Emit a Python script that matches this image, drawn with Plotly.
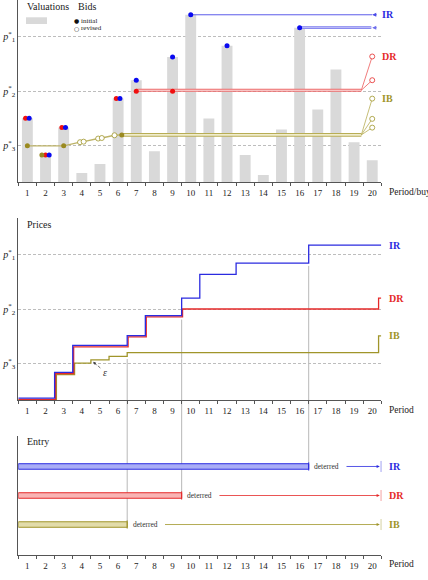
import plotly.graph_objects as go

W, H = 428, 580

# ---------------- data ----------------
periods = list(range(1, 21))
valuations = [35.2, 15.0, 30.0, 5.1, 10.1, 45.9, 56.0, 17.0, 68.8, 91.9,
              35.0, 74.9, 15.0, 4.0, 28.9, 84.8, 39.9, 61.9, 22.0, 12.1]

p_levels = [80, 50, 20]
p_labels = ["<i>p</i><sup>*</sup><sub>1</sub>", "<i>p</i><sup>*</sup><sub>2</sub>",
            "<i>p</i><sup>*</sup><sub>3</sub>"]

# initial bids
ir_bid_x = [1.1, 2.2, 3.1, 6.1, 7, 9, 10, 12, 16]
ir_bid_y = [35.2, 15.0, 30.0, 45.9, 56.0, 68.8, 91.9, 74.9, 84.8]
dr_bid_x = [0.9, 2.0, 2.9, 5.9, 7, 9]
dr_bid_y = [35.2, 15.0, 30.0, 45.9, 50.0, 50.0]
ib_bid_x = [1.0, 1.8, 3.0, 6.2]
ib_bid_y = [20.0, 15.0, 20.0, 26.0]

# IB bid path and revised bids
ib_path_x = [1, 3, 3.9, 4.1, 4.9, 5.1, 5.8, 6.2]
ib_path_y = [20, 20, 22.0, 22.3, 24.0, 24.3, 25.8, 26.0]
ib_rev_x = [3.9, 4.1, 4.9, 5.1, 5.8]
ib_rev_y = [22.0, 22.3, 24.0, 24.3, 25.8]

# held bids
ir_hold = [(10, 91.9), (16, 84.8)]
dr_hold_x = [7, 19.4]
dr_hold_y = [50.5, 50.5]
ib_hold_x = [6.2, 19.4]
ib_hold_y = [26.0, 26.0]
fan_x = [19.4, 20.0]
dr_fan_y = [69.0, 56.0]
ib_fan_y = [45.9, 34.8, 30.0]
hold_end = 20

# prices
ir_price_x = [0.5, 2.5, 3.5, 6.5, 7.5, 9.5, 10.5, 12.5, 16.5, 20.5]
ir_price_y = [1.0, 15.2, 30.0, 35.4, 46.4, 56.0, 69.0, 75.2, 85.1, 85.1]
dr_price_x = [0.5, 2.55, 3.55, 6.55, 7.55, 9.55, 20.35, 20.5]
dr_price_y = [0.3, 14.5, 29.2, 34.7, 45.7, 50.0, 56.0, 56.0]
ib_price_x = [0.5, 2.6, 3.6, 4.5, 5.5, 6.5, 20.35, 20.5]
ib_price_y = [0.0, 14.0, 20.3, 22.0, 24.0, 26.0, 35.2, 35.2]

# entry
entrants = ["IR", "DR", "IB"]
entry_y = [3, 2, 1]
deter_at = [16.5, 9.5, 6.5]

# ---------------- styles ----------------
BLUE, BLUE_L = "#2b2be0", "#a9adf6"
RED, RED_L = "#e52a2a", "#f8b4b4"
OLV, OLV_L = "#a0952a", "#e2dcaa"
DOT_B, DOT_R, DOT_O = "#0a0af0", "#f01010", "#9a8a20"
GRAY_BAR = "#d9d9d9"
AX = "#555555"
FONT = "Liberation Serif, DejaVu Serif, serif"
col = {"IR": BLUE, "DR": RED, "IB": OLV}
col_l = {"IR": BLUE_L, "DR": RED_L, "IB": OLV_L}
price_series = {"IR": (ir_price_x, ir_price_y), "DR": (dr_price_x, dr_price_y),
                "IB": (ib_price_x, ib_price_y)}

XDOM = [18.3 / W, 381.3 / W]
YD_TOP = [1 - 182.3 / H, 1.0]
YD_MID = [1 - 400 / H, 1 - 218 / H]
YD_BOT = [1 - 555 / H, 1 - 436 / H]
BOT_RANGE = [-0.05, 4.05]


def px(x):
    return x / W


def py(y):
    return 1 - y / H


def mid_paper(v):
    return YD_MID[0] + v / 100 * (YD_MID[1] - YD_MID[0])


def bot_paper(v):
    return YD_BOT[0] + (v - BOT_RANGE[0]) / (BOT_RANGE[1] - BOT_RANGE[0]) * (YD_BOT[1] - YD_BOT[0])


fig = go.Figure()

# ---------- top panel ----------
fig.add_trace(go.Bar(x=periods, y=valuations, width=0.6, marker=dict(color=GRAY_BAR, line=dict(width=0)),
                     xaxis="x", yaxis="y", showlegend=False, hoverinfo="skip"))


def double_line(xs, ys, c, xa, ya, w=3.2, inner="#ffffff"):
    fig.add_trace(go.Scatter(x=xs, y=ys, mode="lines", line=dict(color=c, width=w),
                             xaxis=xa, yaxis=ya, showlegend=False, hoverinfo="skip"))
    fig.add_trace(go.Scatter(x=xs, y=ys, mode="lines", line=dict(color=inner, width=w - 2.0),
                             xaxis=xa, yaxis=ya, showlegend=False, hoverinfo="skip"))


# IB path
fig.add_trace(go.Scatter(x=ib_path_x, y=ib_path_y, mode="lines", line=dict(color="#bdb368", width=1.4),
                         xaxis="x", yaxis="y", showlegend=False, hoverinfo="skip"))
# holds
double_line(ib_hold_x, ib_hold_y, "#b8ad55", "x", "y", w=3.6, inner="#efeccc")
double_line(dr_hold_x, dr_hold_y, "#ec6a6a", "x", "y", w=3.2, inner="#fde4e4")
# fans
for fy in ib_fan_y:
    fig.add_trace(go.Scatter(x=fan_x, y=[ib_hold_y[-1], fy], mode="lines", line=dict(color="#b8ad55", width=0.8),
                             xaxis="x", yaxis="y", showlegend=False, hoverinfo="skip"))
for fy in dr_fan_y:
    fig.add_trace(go.Scatter(x=fan_x, y=[dr_hold_y[-1], fy], mode="lines", line=dict(color="#ec5a5a", width=0.8),
                             xaxis="x", yaxis="y", showlegend=False, hoverinfo="skip"))
fig.add_trace(go.Scatter(x=[fan_x[1]] * len(ib_fan_y), y=ib_fan_y, mode="markers",
                         marker=dict(size=5, color="white", line=dict(color=OLV, width=0.8)),
                         xaxis="x", yaxis="y", showlegend=False, hoverinfo="skip"))
fig.add_trace(go.Scatter(x=[fan_x[1]] * len(dr_fan_y), y=dr_fan_y, mode="markers",
                         marker=dict(size=5, color="white", line=dict(color=RED, width=0.8)),
                         xaxis="x", yaxis="y", showlegend=False, hoverinfo="skip"))
# IR holds
fig.add_trace(go.Scatter(x=[ir_hold[0][0], hold_end], y=[ir_hold[0][1]] * 2, mode="lines",
                         line=dict(color="#4a4ae8", width=0.9),
                         xaxis="x", yaxis="y", showlegend=False, hoverinfo="skip"))
double_line([ir_hold[1][0], hold_end - 0.05], [ir_hold[1][1]] * 2, "#7b7bee", "x", "y", w=2.8, inner="#dcdcfb")

# revised open circles
fig.add_trace(go.Scatter(x=ib_rev_x, y=ib_rev_y, mode="markers",
                         marker=dict(size=5, color="white", line=dict(color=OLV, width=0.8)),
                         xaxis="x", yaxis="y", showlegend=False, hoverinfo="skip"))
# initial bids
for bx, by, c in [(dr_bid_x, dr_bid_y, DOT_R), (ir_bid_x, ir_bid_y, DOT_B), (ib_bid_x, ib_bid_y, DOT_O)]:
    fig.add_trace(go.Scatter(x=bx, y=by, mode="markers", marker=dict(size=5, color=c),
                             xaxis="x", yaxis="y", showlegend=False, hoverinfo="skip"))

# ---------- middle panel ----------
shapes = []
for name, d, cy in zip(entrants, deter_at, entry_y):
    xs, ys = price_series[name]
    before = [y for x, y in zip(xs, ys) if x < d - 0.01][-1]
    shapes.append(dict(type="line", xref="x2", yref="paper", x0=d, x1=d,
                       y0=mid_paper(before - 1.5), y1=bot_paper(cy - 0.12),
                       line=dict(color="#b0b0b0", width=0.9), layer="below"))

for name, c in [("IB", OLV), ("DR", RED), ("IR", BLUE)]:
    xs, ys = price_series[name]
    fig.add_trace(go.Scatter(x=xs, y=ys, mode="lines", line=dict(color=c, width=1.3, shape="hv"),
                             xaxis="x2", yaxis="y2", showlegend=False, hoverinfo="skip"))

# ---------- bottom panel ----------
fig.add_trace(go.Bar(y=entry_y, x=[d - 0.5 for d in deter_at], base=0.5, orientation="h", width=0.19,
                     marker=dict(color=[col_l[n] for n in entrants],
                                 line=dict(color=[col[n] for n in entrants], width=1)),
                     xaxis="x3", yaxis="y3", showlegend=False, hoverinfo="skip"))

annotations = []


def label(x, y, text, size=10, color="#222", family=FONT, xanchor="left"):
    annotations.append(dict(x=x, y=y, xref="paper", yref="paper", text=text, xanchor=xanchor,
                            yanchor="middle", showarrow=False, borderpad=0,
                            font=dict(family=family, size=size, color=color)))


for name, d, cy in zip(entrants, deter_at, entry_y):
    c = col[name]
    shapes.append(dict(type="line", xref="x3", yref="y3", x0=d, x1=d, y0=cy - 0.14, y1=cy + 0.14,
                       line=dict(color=c, width=1)))
    shapes.append(dict(type="line", xref="x3", yref="y3", x0=20.5, x1=20.5, y0=cy - 0.19, y1=cy + 0.19,
                       line=dict(color=c, width=1)))
    annotations.append(dict(x=d + 1.0, y=cy, xref="x3", yref="y3", text="deterred", showarrow=False,
                            xanchor="center", yanchor="middle",
                            font=dict(family=FONT, size=7.5, color="#333")))
    annotations.append(dict(x=20.42, y=cy, xref="x3", yref="y3", ax=d + 2.0, ay=cy, axref="x3", ayref="y3",
                            text="", showarrow=True, arrowhead=2, arrowsize=0.8, arrowwidth=0.8, arrowcolor=c))
    label(388 / W, bot_paper(cy), "<b>%s</b>" % name, color=c)

# middle labels
for name in entrants:
    xs, ys = price_series[name]
    label(388 / W, mid_paper(ys[-1]), "<b>%s</b>" % name, color=col[name])

# top labels and arrows
for y, t, c in [(ir_hold[0][1], "IR", BLUE), (dr_fan_y[0], "DR", RED), (ib_fan_y[0], "IB", OLV)]:
    annotations.append(dict(x=20.42, y=y, xref="x", yref="y", text="<b>%s</b>" % t, xanchor="left",
                            yanchor="middle", showarrow=False, font=dict(family=FONT, size=10, color=c)))
for (hx, hy), c in zip(ir_hold, ["#4a4ae8", "#6f6fec"]):
    annotations.append(dict(x=hold_end, y=hy, xref="x", yref="y", ax=6, ay=0, text="", showarrow=True,
                            arrowhead=2, arrowsize=0.9, arrowwidth=0.9, arrowcolor=c))

# epsilon
annotations.append(dict(x=5.27, y=15.0, xref="x2", yref="y2", text="<i>ε</i>", showarrow=False,
                        xanchor="center", yanchor="middle",
                        font=dict(family=FONT, size=10, color="#333")))
shapes.append(dict(type="line", xref="x2", yref="y2", x0=5.02, y0=17.6, x1=4.68, y1=20.6,
                   line=dict(color="#444", width=0.8, dash="dot")))
annotations.append(dict(x=4.63, y=21.0, xref="x2", yref="y2", ax=5, ay=5, text="", showarrow=True,
                        arrowhead=2, arrowsize=0.7, arrowwidth=0.8, arrowcolor="#444"))

# panel titles / legend
for t, x, y in [("Valuations", 26, 6.5), ("Bids", 77, 6.5), ("Prices", 26, 224.5), ("Entry", 26, 441)]:
    label(px(x), py(y), t)
shapes.append(dict(type="rect", xref="paper", yref="paper", x0=px(26), x1=px(47), y0=py(24), y1=py(17.3),
                   fillcolor=GRAY_BAR, line=dict(width=0)))
for sym, t, y in [("●", "initial", 20.6), ("○", "revised", 28.2)]:
    label(px(76.3), py(y), sym, size=6, color="#111", family="DejaVu Sans", xanchor="center")
    label(px(79.5), py(y), t, size=7)
for t, y in [("Period/buyer", 192), ("Period", 410), ("Period", 564)]:
    label(px(388), py(y), t, size=9.5)

# ---------------- axes ----------------
half_ticks = [p - 0.5 for p in periods] + [20.5]


def xax(anchor):
    return dict(domain=XDOM, range=[0.5, 20.5], anchor=anchor, tickvals=periods,
                ticktext=[str(p) for p in periods], ticks="", showline=True, linecolor=AX, linewidth=1,
                showgrid=False, zeroline=False, tickfont=dict(family=FONT, size=9, color="#222"),
                minor=dict(tickvals=half_ticks, ticks="outside", ticklen=3, tickcolor=AX, tickwidth=0.8),
                ticklabelstandoff=2, fixedrange=True)


def yax(dom, anchor, rng, labels=True):
    d = dict(domain=dom, range=rng, anchor=anchor, showline=True, linecolor=AX, linewidth=1,
             zeroline=False, ticks="", fixedrange=True)
    if labels:
        d.update(tickvals=p_levels, ticktext=p_labels, showgrid=True, gridcolor="#bdbdbd", gridwidth=0.7,
                 griddash="3px,2px", tickfont=dict(family=FONT, size=10, color="#222"))
    else:
        d.update(showticklabels=False, showgrid=False)
    return d


fig.update_layout(
    width=W, height=H, margin=dict(l=0, r=0, t=0, b=0),
    paper_bgcolor="white", plot_bgcolor="white", barmode="overlay", showlegend=False,
    xaxis=xax("y"), xaxis2=xax("y2"), xaxis3=xax("y3"),
    yaxis=yax(YD_TOP, "x", [0, 100]), yaxis2=yax(YD_MID, "x2", [0, 100]),
    yaxis3=yax(YD_BOT, "x3", BOT_RANGE, labels=False),
    shapes=shapes, annotations=annotations,
)

fig.write_html("out.html")
